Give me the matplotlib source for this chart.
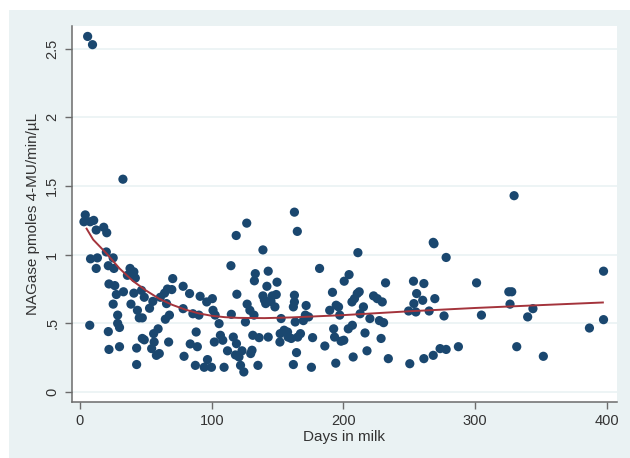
import matplotlib.pyplot as plt
from matplotlib.patches import Rectangle

plt.rcParams['font.family'] = ['Liberation Sans', 'DejaVu Sans']

# scatter points: days in milk / NAGase activity
days = [5.8, 9.5, 32.6, 329.6, 162.8, 165, 126.6, 118.6, 138.9, 211, 268.2, 268.8,
        278, 397.5, 181.9, 114.6,
        4, 3, 7.7, 10.4, 12.3, 18, 20.3, 8, 13.2, 12.3, 7.4, 20, 25.2, 21.5, 25.8,
        22, 26.4, 27.6, 25.2, 28.6, 28.6, 30, 21.5, 22, 30, 33, 36, 38, 40.9, 42,
        38.7, 40.9, 43.6, 45, 47.3, 43, 43, 47.3, 48.8, 46.7, 48.8, 52.8, 55.3,
        55.9, 56.3, 54.4, 58, 59.3, 60.2, 61, 64.2, 66.4, 69.7, 70.4, 65.7, 67.9,
        64.8, 67.3, 78.3, 78.3, 83.2, 79, 83.7, 85.7, 88.2, 89.1, 87.6, 91.2, 90.3,
        94.3, 96.2, 100.5, 101, 96.8, 99.8, 102, 102.6, 106.6, 108.4, 109.4, 105.6,
        114.9, 116.4, 118.8, 119.1, 120.7, 121.9, 124.4, 125.6, 126.9, 129, 129.6,
        130.6, 131.2, 132.1, 133.1, 132.4, 135.1, 136, 138.9, 141.9, 142.9, 141,
        142.9, 146, 149, 149.6, 151.8, 152, 152.7, 157.6, 160.4, 162, 162.8, 162.8,
        162, 163.4, 164.4, 165.3, 167.4, 169.6, 171.1, 171.7, 173.6, 175.7, 176.6,
        185.9, 189.6, 191.7, 192.6, 193.3, 194.2, 194.5, 196.3, 197.2, 198.2, 200.3,
        200.6, 204.3, 203.7, 206.8, 207.4, 206.5, 208.4, 210.5, 212, 212.7, 215.2,
        216.4, 217.9, 220.1, 222.9, 225.7, 227.3, 228.6, 229.5, 230.5, 232, 234.1,
        250.4, 249.5, 253.2, 253.5, 255, 255.6, 261.1, 261.1, 260.2, 265.1, 268.2,
        269.4, 273.4, 276.4, 278, 287.3, 301.1, 304.8, 325.6, 327.8, 326.5, 331.6,
        339.9, 343.9, 351.8, 386.8, 397.5,
        145, 155, 158, 148, 112, 118, 123, 140]
nagase = [2.59, 2.53, 1.55, 1.43, 1.31, 1.17, 1.23, 1.14, 1.035, 1.015, 1.09, 1.08,
          0.98, 0.88, 0.90, 0.92,
          1.29, 1.24, 1.24, 1.25, 1.18, 1.20, 1.16, 0.97, 0.977, 0.90, 0.486, 1.02,
          0.977, 0.92, 0.90, 0.787, 0.775, 0.71, 0.64, 0.56, 0.50, 0.47, 0.44, 0.31,
          0.33, 0.73, 0.85, 0.90, 0.875, 0.83, 0.64, 0.72, 0.595, 0.54, 0.54, 0.32,
          0.20, 0.39, 0.38, 0.74, 0.69, 0.61, 0.66, 0.425, 0.364, 0.316, 0.267, 0.46,
          0.28, 0.69, 0.72, 0.75, 0.746, 0.826, 0.644, 0.56, 0.53, 0.364, 0.77,
          0.607, 0.717, 0.26, 0.35, 0.57, 0.437, 0.33, 0.194, 0.697, 0.56, 0.18,
          0.656, 0.68, 0.595, 0.236, 0.18, 0.364, 0.56, 0.413, 0.377, 0.18, 0.498,
          0.566, 0.40, 0.352, 0.712, 0.255, 0.194, 0.146, 0.51, 0.64, 0.595, 0.28,
          0.304, 0.413, 0.56, 0.862, 0.81, 0.194, 0.396, 0.70, 0.77, 0.88, 0.644,
          0.40, 0.70, 0.71, 0.80, 0.364, 0.425, 0.535, 0.437, 0.39, 0.20, 0.705,
          0.656, 0.62, 0.51, 0.287, 0.40, 0.425, 0.52, 0.56, 0.63, 0.547, 0.18,
          0.396, 0.335, 0.595, 0.726, 0.46, 0.40, 0.21, 0.632, 0.62, 0.56, 0.37,
          0.377, 0.807, 0.855, 0.46, 0.486, 0.255, 0.656, 0.68, 0.717, 0.73, 0.57,
          0.62, 0.43, 0.30, 0.535, 0.70, 0.68, 0.52, 0.39, 0.656, 0.505, 0.795,
          0.243, 0.206, 0.59, 0.807, 0.644, 0.583, 0.717, 0.79, 0.243, 0.668, 0.59,
          0.267, 0.68, 0.316, 0.554, 0.31, 0.33, 0.795, 0.56, 0.73, 0.73, 0.64, 0.33,
          0.547, 0.607, 0.26, 0.466, 0.527,
          0.66, 0.45, 0.40, 0.62, 0.30, 0.27, 0.30, 0.67]

# fitted curve
fit_days = [5, 10, 20, 30, 40, 50, 60, 70, 80, 90, 100, 110, 120, 140, 160, 200,
            250, 300, 350, 397]
fit_vals = [1.19, 1.11, 1.01, 0.90, 0.81, 0.74, 0.68, 0.635, 0.60, 0.573, 0.555,
            0.545, 0.54, 0.538, 0.543, 0.56, 0.588, 0.612, 0.633, 0.652]

x_ticks = [0, 100, 200, 300, 400]
y_ticks = [0, 0.5, 1, 1.5, 2, 2.5]
y_labels = ['0', '.5', '1', '1.5', '2', '2.5']

fig = plt.figure(figsize=(6.3, 4.58), dpi=100)
fig.patch.set_facecolor('white')
fig.patches.append(Rectangle((9 / 630, 0), 1, 1 - 10 / 458, transform=fig.transFigure,
                             facecolor='#EAF2F3', edgecolor='none', zorder=-10))

ax = fig.add_axes([71.7 / 630, 1 - 401.7 / 458, (616.7 - 71.7) / 630, (401.7 - 26) / 458])
ax.set_facecolor('white')

ax.scatter(days, nagase, s=44, color='#1A476F', edgecolors='none', zorder=3)
ax.plot(fit_days, fit_vals, color='#A4343C', lw=1.4, zorder=4)

ax.set_xlim(-6.3, 407.5)
ax.set_ylim(-0.0707, 2.666)
ax.set_xticks(x_ticks)
ax.set_yticks(y_ticks)
ax.set_yticklabels(y_labels)
ax.grid(axis='y', color='#EAF2F3', lw=1.2, zorder=0)

for side in ['top', 'right']:
    ax.spines[side].set_visible(False)
for side in ['left', 'bottom']:
    ax.spines[side].set_color('#6b6b6b')
    ax.spines[side].set_linewidth(1.1)

ax.tick_params(axis='both', direction='out', length=5, width=1, color='#6b6b6b',
               labelsize=10.5, labelcolor='#333333', pad=4)
ax.tick_params(axis='y', labelrotation=90)
for lbl in ax.get_yticklabels():
    lbl.set_va('center')

ax.set_xlabel('Days in milk', fontsize=11, color='#333333', labelpad=1)
ax.set_ylabel('NAGase pmoles 4-MU/min/µL', fontsize=11, color='#333333', labelpad=4)

fig.savefig('out.png', dpi=100)
